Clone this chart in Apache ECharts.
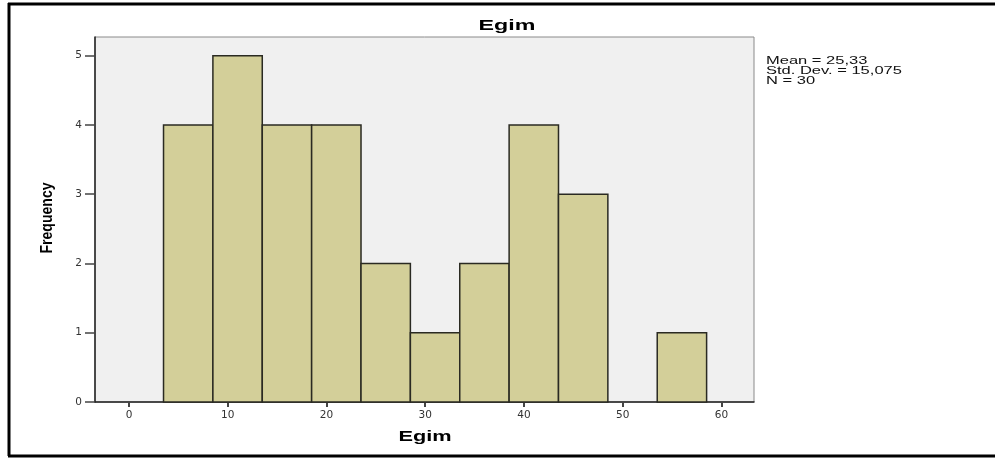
<!DOCTYPE html>
<html>
<head>
<meta charset="utf-8">
<script src="https://cdn.jsdelivr.net/npm/echarts@6/dist/echarts.min.js"></script>
<style>html,body{margin:0;padding:0;background:#fff}#c{width:995px;height:459px}</style>
</head>
<body>
<div id="c"></div>
<script>
var binStarts = [3.5, 8.5, 13.5, 18.5, 23.5, 28.5, 33.5, 38.5, 43.5, 48.5, 53.5];
var binWidth = 5;
var frequencies = [4, 5, 4, 4, 2, 1, 2, 4, 3, 0, 1];
var xTicks = [0, 10, 20, 30, 40, 50, 60];
var yTicks = [0, 1, 2, 3, 4, 5];
var statsLines = ['Mean = 25,33', 'Std. Dev. = 15,075', 'N = 30'];
var titleText = 'Egim';
var xName = 'Egim';
var yName = 'Frequency';

var barData = binStarts.map(function (s, i) { return [s, s + binWidth, frequencies[i]]; });

var chart = echarts.init(document.getElementById('c'));
var labelFont = 'Liberation Sans, Arial, sans-serif';
var tickFont = 'DejaVu Sans, sans-serif';
chart.setOption({
  animation: false,
  grid: {
    left: 95, right: 241, top: 37, bottom: 57,
    show: true, backgroundColor: '#f0f0f0', borderColor: '#8a8a8a', borderWidth: 1
  },
  xAxis: {
    type: 'value', min: -3.44, max: 63.3,
    axisLine: { show: true, onZero: false, lineStyle: { color: '#222', width: 1.5 } },
    axisTick: { show: true, customValues: xTicks, length: 5, lineStyle: { color: '#444', width: 2 } },
    axisLabel: { customValues: xTicks, margin: 8, fontFamily: tickFont, fontSize: 10.5, color: '#333' },
    splitLine: { show: false }
  },
  yAxis: {
    type: 'value', min: 0, max: 5.27,
    axisLine: { show: true, onZero: false, lineStyle: { color: '#222', width: 1.5 } },
    axisTick: { show: true, customValues: yTicks, length: 10, lineStyle: { color: '#444', width: 1.5 } },
    axisLabel: { customValues: yTicks, margin: 13, fontFamily: tickFont, fontSize: 10.5, color: '#333' },
    splitLine: { show: false }
  },
  series: [{
    type: 'custom',
    data: barData,
    encode: { x: [0, 1], y: 2 },
    renderItem: function (params, api) {
      var v = api.value(2);
      if (!v) return null;
      var p0 = api.coord([api.value(0), 0]);
      var p1 = api.coord([api.value(1), v]);
      return {
        type: 'rect',
        shape: { x: p0[0], y: p1[1], width: p1[0] - p0[0], height: p0[1] - p1[1] },
        style: { fill: '#d3cf99', stroke: '#2a2a22', lineWidth: 1.5 }
      };
    }
  }],
  graphic: [
    { type: 'line', shape: { x1: 9, y1: 3, x2: 9, y2: 456 }, style: { stroke: '#000', lineWidth: 3 } },
    { type: 'line', shape: { x1: 8, y1: 4, x2: 995, y2: 4 }, style: { stroke: '#000', lineWidth: 3 } },
    { type: 'line', shape: { x1: 8, y1: 456, x2: 995, y2: 456 }, style: { stroke: '#000', lineWidth: 3 } },
    { type: 'text', x: 507, y: 26, scaleX: 1.55, style: { text: titleText, align: 'center', verticalAlign: 'middle', fontFamily: labelFont, fontWeight: 'bold', fontSize: 15, fill: '#000' } },
    { type: 'text', x: 425, y: 437, scaleX: 1.45, style: { text: xName, align: 'center', verticalAlign: 'middle', fontFamily: labelFont, fontWeight: 'bold', fontSize: 15, fill: '#000' } },
    { type: 'text', x: 48, y: 218, rotation: Math.PI / 2, scaleX: 0.88, style: { text: yName, align: 'center', verticalAlign: 'middle', fontFamily: labelFont, fontWeight: 'bold', fontSize: 16, fill: '#000' } },
    { type: 'text', x: 766, y: 56, scaleX: 1.5, style: { text: statsLines.join('\n'), fontFamily: labelFont, fontSize: 11, lineHeight: 10, fill: '#111' } }
  ]
});
</script>
</body>
</html>
